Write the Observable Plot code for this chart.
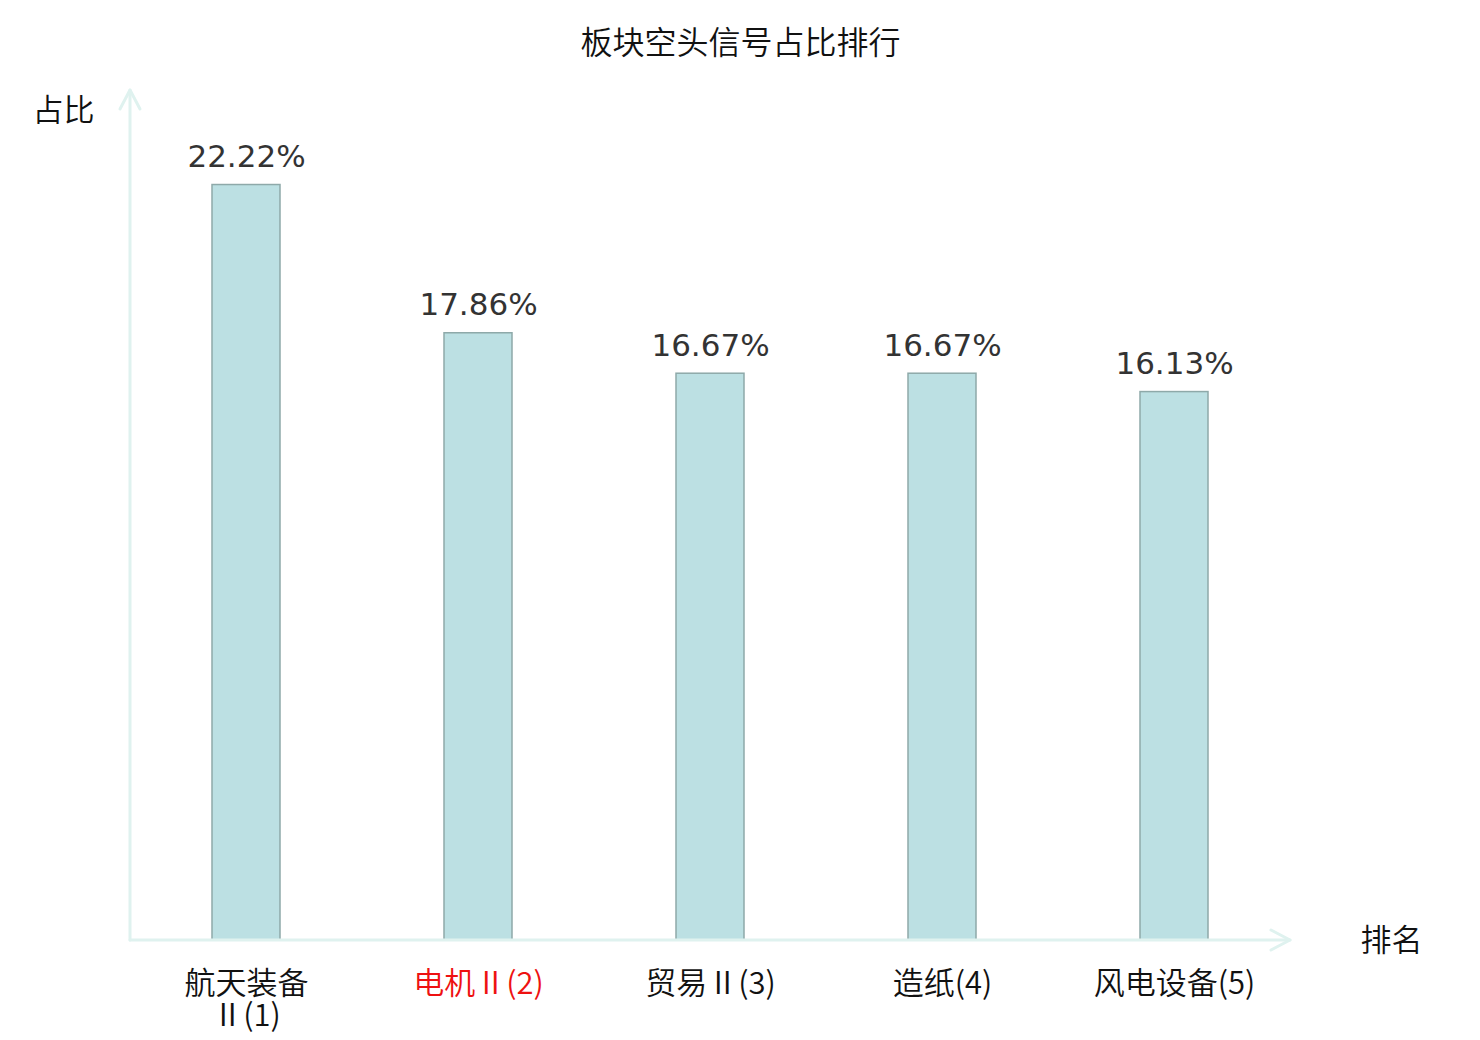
<!DOCTYPE html>
<html>
<head>
<meta charset="utf-8">
<script src="https://cdn.jsdelivr.net/npm/d3@7"></script>
<script src="https://cdn.jsdelivr.net/npm/@observablehq/plot@0.6"></script>
<style>
  html, body { margin: 0; padding: 0; background: #fff; }
  #chart svg { display: block; }
</style>
</head>
<body>
<div id="chart"></div>
<script>
const categories = ["航天装备Ⅱ(1)", "电机Ⅱ(2)", "贸易Ⅱ(3)", "造纸(4)", "风电设备(5)"];
const tickLabels = ["航天装备\nⅡ(1)", "电机Ⅱ(2)", "贸易Ⅱ(3)", "造纸(4)", "风电设备(5)"];
const values = [22.22, 17.86, 16.67, 16.67, 16.13];
const highlighted = "电机Ⅱ(2)";
const titleText = "板块空头信号占比排行";
const yName = "占比";
const xName = "排名";

const data = categories.map((c, i) => ({cat: c, value: values[i], label: tickLabels[i]}));

const axisColor = "#dff2ef";
const cjk = "'Noto Sans CJK SC', sans-serif";

function axesArrows(index, scales, values, dims) {
  const g = d3.create("svg:g").attr("fill", "none").attr("stroke", axisColor)
    .attr("stroke-width", 3).attr("stroke-linecap", "round").attr("stroke-linejoin", "round");
  const x0 = dims.marginLeft, y0 = dims.height - dims.marginBottom;
  const x1 = dims.width - dims.marginRight, yTop = dims.marginTop;
  g.append("line").attr("x1", x0).attr("y1", y0).attr("x2", x0).attr("y2", yTop);
  g.append("line").attr("x1", x0).attr("y1", y0).attr("x2", x1).attr("y2", y0);
  g.append("path").attr("d", `M${x0 - 10},${yTop + 19}L${x0},${yTop}L${x0 + 10},${yTop + 19}`);
  g.append("path").attr("d", `M${x1 - 19},${y0 - 10}L${x1},${y0}L${x1 - 19},${y0 + 10}`);
  return g.node();
}

const chart = Plot.plot({
  width: 1480,
  height: 1040,
  marginLeft: 130,
  marginRight: 190,
  marginTop: 90,
  marginBottom: 100,
  style: {background: "#fff", fontFamily: cjk},
  x: {domain: categories, paddingInner: 0.707, paddingOuter: 0.3535, axis: null},
  y: {domain: [0, 25], axis: null},
  marks: [
    Plot.barY(data, {x: "cat", y: "value", fill: "#bce0e3", stroke: "#8ea9a9", strokeWidth: 1.5}),
    axesArrows,
    Plot.text(data, {
      x: "cat", y: "value", text: d => d.value.toFixed(2) + "%",
      dy: -28, fontSize: 31, fill: "#333", fontFamily: "'DejaVu Sans', sans-serif"
    }),
    Plot.text(data, {
      x: "cat", y: 0, text: "label", lineAnchor: "top", dy: 30, lineHeight: 1.05,
      fontSize: 31, fontWeight: 350, fill: d => d.cat === highlighted ? "#ee1111" : "#111",
      fontFamily: cjk
    }),
    Plot.text([titleText], {
      frameAnchor: "top", dx: 30, dy: -59, text: d => d, fontSize: 32, fontWeight: 350, fill: "#111",
      fontFamily: cjk
    }),
    Plot.text([yName], {
      frameAnchor: "top-left", dx: -67, dy: 8, textAnchor: "middle", text: d => d,
      fontSize: 31, fontWeight: 350, fill: "#111", fontFamily: cjk
    }),
    Plot.text([xName], {
      frameAnchor: "bottom-right", dx: 101, dy: 10, textAnchor: "middle", text: d => d,
      fontSize: 31, fontWeight: 350, fill: "#111", fontFamily: cjk
    })
  ]
});
document.getElementById("chart").appendChild(chart);
</script>
</body>
</html>
